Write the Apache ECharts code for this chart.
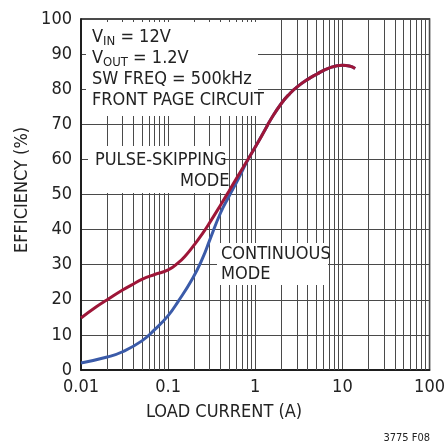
<!DOCTYPE html>
<html>
<head>
<meta charset="utf-8">
<script src="https://cdn.jsdelivr.net/npm/echarts@6/dist/echarts.min.js"></script>
<style>
  html, body { margin: 0; padding: 0; background: #fff; }
  #chart { width: 448px; height: 448px; }
</style>
</head>
<body>
<div id="chart"></div>
<script>
// load current (A) / efficiency (%)
var pulseCurrent = [0.01, 0.015, 0.02, 0.03, 0.04, 0.05, 0.07, 0.1, 0.13, 0.16, 0.2, 0.25, 0.3, 0.4, 0.5, 0.64, 0.8, 1, 1.3, 1.5, 2, 2.5, 3, 4, 5, 7, 10, 12, 14];
var pulseEff     = [14.8, 18, 20, 22.8, 24.5, 25.8, 27.2, 28.5, 30.5, 32.7, 35.7, 39, 42, 47, 51, 55.5, 59.5, 63.5, 68.5, 71.3, 76, 78.8, 80.6, 82.8, 84.2, 86, 86.8, 86.6, 85.9];
var contCurrent  = [0.01, 0.02, 0.03, 0.05, 0.07, 0.1, 0.13, 0.19, 0.25, 0.3, 0.4, 0.5, 0.64, 0.8, 1, 1.3, 1.5, 2, 2.5, 3, 4, 5, 7, 10, 12, 14];
var contEff      = [2, 3.7, 5.2, 8.3, 11.5, 15.5, 19.5, 26, 32, 37, 44.8, 49.5, 54.5, 59.3, 63.5, 68.5, 71.3, 76, 78.8, 80.6, 82.8, 84.2, 86, 86.8, 86.6, 85.9];
var xTickLabels  = ['0.01', '0.1', '1', '10', '100'];
var decades      = [0.01, 0.1, 1, 10];
var minorSteps   = [2, 3, 4, 5, 6, 7, 8, 9];

var FONT = '"Liberation Sans Narrow", "DejaVu Sans Condensed", sans-serif';
var TXT = '#222';

function pairs(xs, ys) {
  return xs.map(function (x, i) { return [x, ys[i]]; });
}

// minor vertical grid lines 2..9 in each decade
var minorLines = [];
decades.forEach(function (d) {
  minorSteps.forEach(function (m) {
    minorLines.push({ xAxis: +(d * m).toPrecision(3) });
  });
});

var myChart = echarts.init(document.getElementById('chart'));

var option = {
  backgroundColor: '#fff',
  animation: false,
  grid: {
    left: 81, right: 15, top: 19, bottom: 78,
    show: true, borderColor: '#111', borderWidth: 1.5
  },
  xAxis: {
    type: 'log',
    logBase: 10,
    min: 0.01,
    max: 100,
    axisLine: { lineStyle: { color: '#111', width: 1.5 } },
    axisTick: { show: false },
    splitLine: { show: true, lineStyle: { color: '#4a4a4a', width: 1 } },
    axisLabel: {
      margin: 8,
      fontFamily: FONT, fontSize: 18, color: TXT,
      formatter: function (v) {
        var i = Math.round(Math.log10(v)) + 2;
        return xTickLabels[i] !== undefined ? xTickLabels[i] : '';
      }
    }
  },
  yAxis: {
    type: 'value',
    min: 0, max: 100, interval: 10,
    axisLine: { show: true, lineStyle: { color: '#111', width: 1.5 } },
    axisTick: { show: false },
    splitLine: { show: true, lineStyle: { color: '#4a4a4a', width: 1 } },
    axisLabel: { margin: 9, fontFamily: FONT, fontSize: 18, color: TXT }
  },
  graphic: {
    z: 3,
    elements: [
      // white boxes behind the labels (they hide the grid)
      { type: 'rect', z: 3, shape: { x: 86, y: 22, width: 172, height: 94 }, style: { fill: '#fff' } },
      { type: 'rect', z: 3, shape: { x: 88, y: 146, width: 137, height: 47 }, style: { fill: '#fff' } },
      { type: 'rect', z: 3, shape: { x: 217, y: 243, width: 111, height: 42 }, style: { fill: '#fff' } },
      {
        type: 'text', z: 4, left: 92, top: 27,
        style: {
          text: '{a|V}{s|IN}{a| = 12V}\n{a|V}{s|OUT}{a| = 1.2V}\n{a|SW FREQ = 500kHz}\n{a|FRONT PAGE CIRCUIT}',
          rich: {
            a: { fontFamily: FONT, fontSize: 18, lineHeight: 21, fill: TXT },
            s: { fontFamily: FONT, fontSize: 13, lineHeight: 21, fill: TXT, padding: [8, 0, 0, 0] }
          }
        }
      },
      {
        type: 'text', z: 4, left: 95, top: 151,
        style: { text: 'PULSE-SKIPPING', font: '18px ' + FONT, fill: TXT }
      },
      {
        type: 'text', z: 4, left: 180, top: 172,
        style: { text: 'MODE', font: '18px ' + FONT, fill: TXT }
      },
      {
        type: 'text', z: 4, left: 221, top: 244,
        style: { text: 'CONTINUOUS\nMODE', font: '18px ' + FONT, fill: TXT, lineHeight: 20 }
      },
      {
        type: 'text', z: 4, left: 'center', top: 403,
        style: { text: 'LOAD CURRENT (A)', font: '18px ' + FONT, fill: TXT },
        x: 33
      },
      {
        type: 'text', z: 4, rotation: Math.PI / 2, x: 13, y: 253,
        style: { text: 'EFFICIENCY (%)', font: '18px ' + FONT, fill: TXT }
      },
      {
        type: 'text', z: 4, right: 18, top: 433,
        style: { text: '3775 F08', font: '11px ' + FONT, fill: TXT }
      }
    ]
  },
  series: [
    {
      // holder for the minor grid lines
      type: 'line',
      z: 1,
      data: [],
      silent: true,
      markLine: {
        silent: true,
        z: 1,
        symbol: ['none', 'none'],
        label: { show: false },
        lineStyle: { type: 'solid', color: '#4a4a4a', width: 1 },
        data: minorLines
      }
    },
    {
      name: 'CONTINUOUS MODE',
      type: 'line',
      z: 5,
      smooth: 0.5,
      symbol: 'none',
      lineStyle: { color: '#3b5ba9', width: 3 },
      data: pairs(contCurrent, contEff)
    },
    {
      name: 'PULSE-SKIPPING MODE',
      type: 'line',
      z: 6,
      smooth: 0.5,
      symbol: 'none',
      lineStyle: { color: '#9e1638', width: 3 },
      data: pairs(pulseCurrent, pulseEff)
    }
  ]
};

myChart.setOption(option);
</script>
</body>
</html>
